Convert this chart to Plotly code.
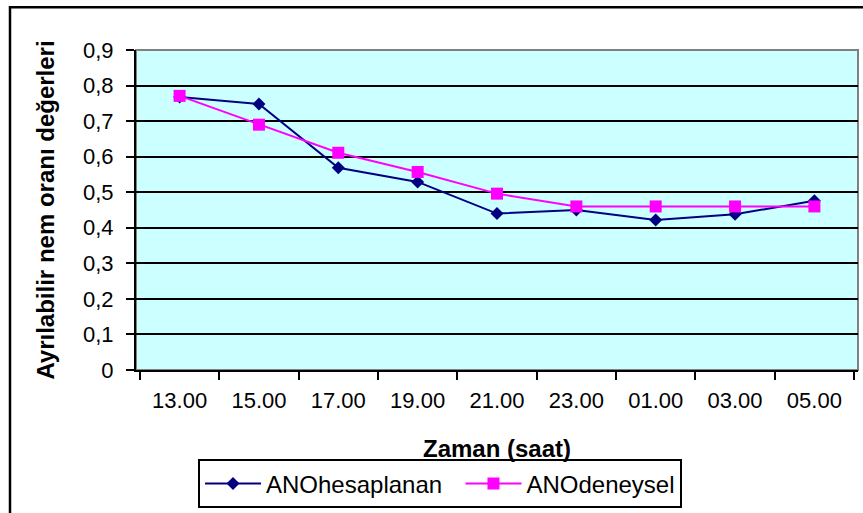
import plotly.graph_objects as go

# ---- data ----
categories = ["13.00", "15.00", "17.00", "19.00", "21.00", "23.00", "01.00", "03.00", "05.00"]
ano_hesaplanan = [0.768, 0.748, 0.569, 0.529, 0.440, 0.450, 0.422, 0.438, 0.476]
ano_deneysel = [0.771, 0.690, 0.611, 0.557, 0.496, 0.460, 0.460, 0.460, 0.460]
y_tick_vals = [0, 0.1, 0.2, 0.3, 0.4, 0.5, 0.6, 0.7, 0.8, 0.9]
y_tick_text = ["0", "0,1", "0,2", "0,3", "0,4", "0,5", "0,6", "0,7", "0,8", "0,9"]
series_names = ["ANOhesaplanan", "ANOdeneysel"]

FONT = "Arial, 'Liberation Sans', sans-serif"
W, H = 863, 513
ML, MR, MT, MB = 136, 5, 50, 141
PW, PH = W - ML - MR, H - MT - MB


def px_x(p):
    return (p - ML) / PW


def px_y(p):
    return (H - MB - p) / PH


fig = go.Figure()
fig.add_trace(go.Scatter(
    x=categories, y=ano_hesaplanan, name=series_names[0] + "\u00a0\u00a0", mode="lines+markers",
    line=dict(color="#000080", width=2),
    marker=dict(symbol="diamond", size=10, color="#000080"),
))
fig.add_trace(go.Scatter(
    x=categories, y=ano_deneysel, name=series_names[1], mode="lines+markers",
    line=dict(color="#FF00FF", width=2),
    marker=dict(symbol="square", size=12, color="#FF00FF"),
))

fig.update_layout(
    width=W, height=H,
    margin=dict(l=ML, r=MR, t=MT, b=MB),
    paper_bgcolor="white",
    plot_bgcolor="#CCFFFF",
    font=dict(family=FONT, size=21, color="black"),
    showlegend=True,
    legend=dict(
        orientation="h", x=px_x(198), xanchor="left", y=px_y(462), yanchor="top",
        bordercolor="black", borderwidth=2, bgcolor="white",
        font=dict(family=FONT, size=24, color="black"),
        itemwidth=56,
    ),
    xaxis=dict(
        type="category", categoryorder="array", categoryarray=categories,
        tickson="boundaries", ticks="outside", ticklen=8, tickwidth=2, tickcolor="black",
        showline=True, linecolor="black", linewidth=2,
        showgrid=False, zeroline=False,
        tickfont=dict(size=22), ticklabelstandoff=10,
        title=dict(text="<b>Zaman (saat)</b>", font=dict(size=24), standoff=28),
    ),
    yaxis=dict(
        range=[0, 0.9], tickvals=y_tick_vals, ticktext=y_tick_text,
        ticks="outside", ticklen=8, tickwidth=2, tickcolor="black",
        showline=True, linecolor="black", linewidth=2,
        showgrid=True, gridcolor="black", gridwidth=2, zeroline=False,
        tickfont=dict(size=22), ticklabelstandoff=8,
        title=dict(text="<b>Ayrılabilir nem oranı değerleri</b>", font=dict(size=24), standoff=22),
    ),
    shapes=[
        dict(type="rect", xref="paper", yref="paper", x0=0, x1=1, y0=0, y1=1,
             line=dict(color="#808080", width=2), layer="below"),
        dict(type="rect", xref="paper", yref="paper",
             x0=px_x(10), x1=px_x(W + 20), y0=px_y(H + 20), y1=px_y(7),
             line=dict(color="black", width=2.5), layer="above"),
    ],
)

fig.write_html("out.html")
